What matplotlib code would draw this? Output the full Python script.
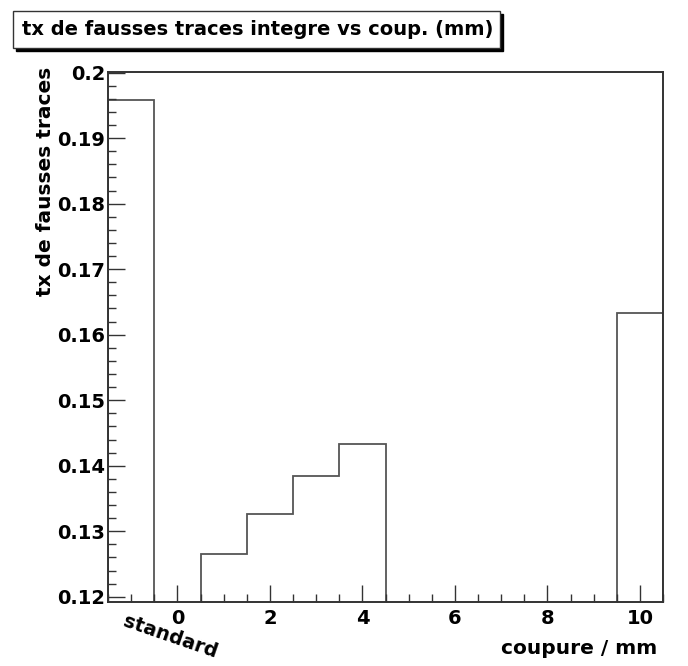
import numpy as np
import matplotlib
matplotlib.use("Agg")
from matplotlib import pyplot as plt
from matplotlib.patches import Rectangle

# bin edges (mm), one bin per cut value, bin at -1 is the "standard" selection
bin_edges = np.arange(-1.5, 11.0, 1.0)
# fraction of fake tracks per bin
fake_rate = [0.1959, 0.0, 0.1266, 0.1327, 0.1384, 0.1433,
             0.0, 0.0, 0.0, 0.0, 0.0, 0.1633]

title = "tx de fausses traces integre vs coup. (mm)"
xlabel = "coupure / mm"
ylabel = "tx de fausses traces"
bin_label = "standard"

plt.rcParams['font.family'] = ['DejaVu Sans']
plt.rcParams['font.weight'] = 'bold'

fig = plt.figure(figsize=(6.88, 6.66), dpi=100)
ax = fig.add_axes([0.157, 0.0961, 0.8067, 0.7958])

ax.stairs(fake_rate, bin_edges, baseline=0, color='#555555', lw=1.3)

ax.set_xlim(-1.5, 10.5)
ax.set_ylim(0.1192, 0.2001)

ax.set_xticks([0, 2, 4, 6, 8, 10])
ax.set_xticks(np.arange(-1.5, 10.6, 0.5), minor=True)
ax.set_yticks([0.12, 0.13, 0.14, 0.15, 0.16, 0.17, 0.18, 0.19, 0.2])
ax.set_yticklabels(['0.12', '0.13', '0.14', '0.15', '0.16', '0.17', '0.18', '0.19', '0.2'])
ax.set_yticks(np.arange(0.12, 0.2001, 0.002), minor=True)

ax.tick_params(which='both', direction='in', top=False, right=False,
               color='#333333', width=1.0, labelsize=14)
ax.tick_params(which='major', length=12)
ax.tick_params(which='minor', length=6)
ax.tick_params(axis='y', pad=2)
ax.tick_params(axis='x', pad=5)

for sp in ax.spines.values():
    sp.set_linewidth(1.4)
    sp.set_color('#333333')

ax.set_ylabel(ylabel, fontsize=14.5, fontweight='bold', ha='right', va='center')
ax.yaxis.set_label_coords(-0.113, 1.01)
ax.set_xlabel(xlabel, fontsize=14.5, fontweight='bold', ha='right', va='center')
ax.xaxis.set_label_coords(0.99, -0.087)

# bin label under the first bin
ax.text(0.112, -0.066, bin_label, transform=ax.transAxes,
        rotation=-19, ha='center', va='center', fontsize=14, fontweight='bold',
        rotation_mode='anchor')

# title box with shadow, ROOT style
W, H = 688.0, 666.0
x0, y0, w, h = 13 / W, 1 - 48 / H, 487 / W, 37 / H
fig.patches.append(Rectangle((x0 + 3 / W, y0 - 3 / H), w, h, transform=fig.transFigure,
                             facecolor='black', edgecolor='black', lw=1, zorder=1))
fig.patches.append(Rectangle((x0, y0), w, h, transform=fig.transFigure,
                             facecolor='white', edgecolor='#333333', lw=1, zorder=2))
fig.text(22 / W, y0 + h / 2, title, fontsize=14, fontweight='bold',
         ha='left', va='center', zorder=3)

fig.savefig("out.png", dpi=100)
